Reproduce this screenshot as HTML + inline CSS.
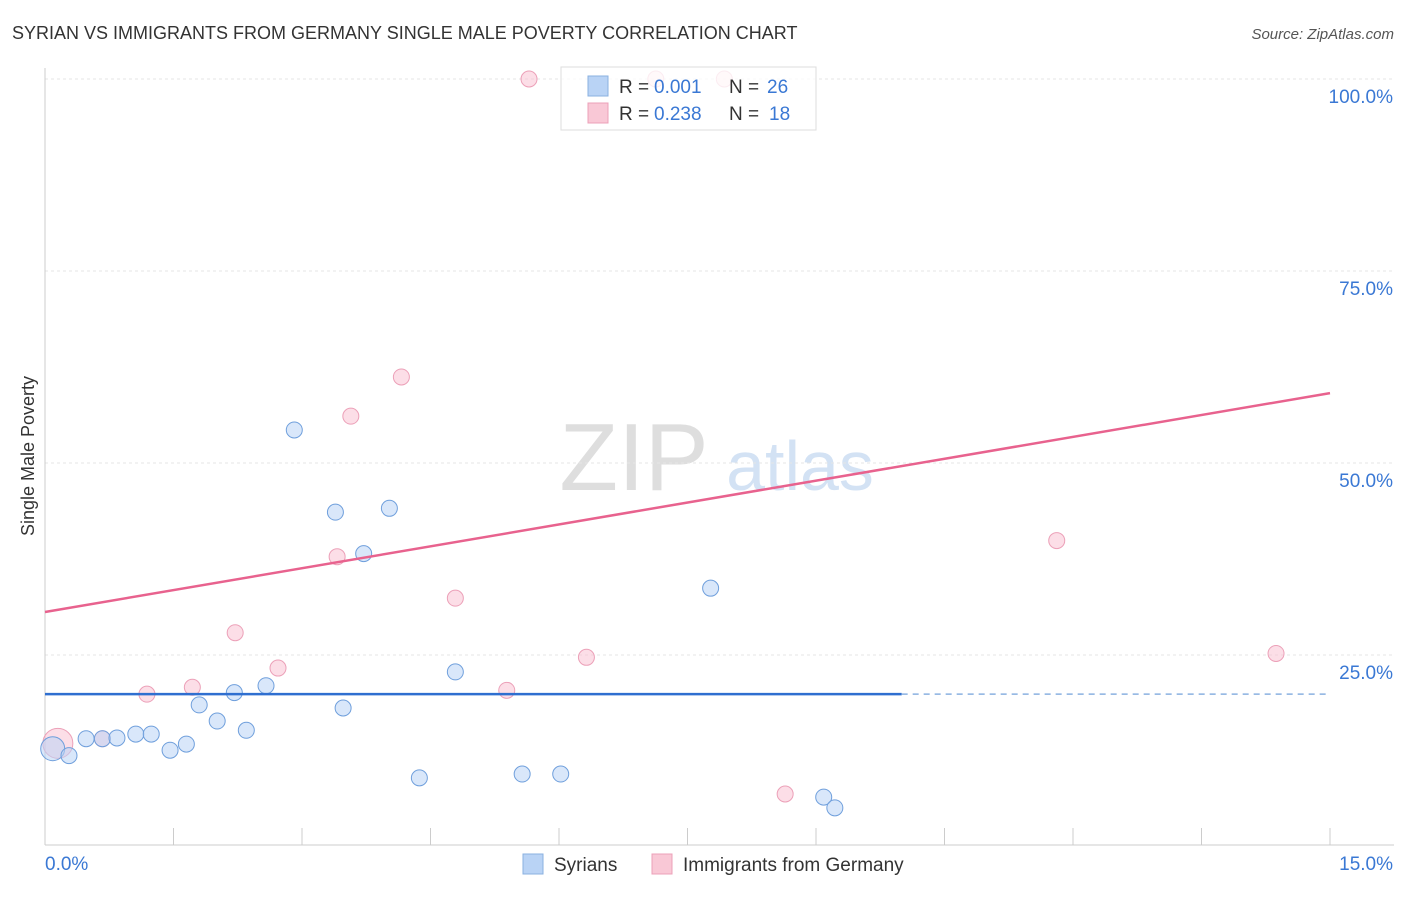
<!DOCTYPE html>
<html><head><meta charset="utf-8"><style>
body{margin:0;background:#fff;font-family:"Liberation Sans",sans-serif}
svg text{font-family:"Liberation Sans",sans-serif}
</style></head><body>
<svg id="c" width="1406" height="892">
<text x="12" y="39" font-size="18" fill="#333">SYRIAN VS IMMIGRANTS FROM GERMANY SINGLE MALE POVERTY CORRELATION CHART</text>
<text x="1394" y="39" font-size="15" fill="#555" text-anchor="end" font-style="italic">Source: ZipAtlas.com</text>
<text x="634" y="490" font-size="96" fill="#dedede" font-family="Liberation Serif" text-anchor="middle">ZIP</text>
<text x="800" y="490" font-size="70" fill="#d3e2f4" text-anchor="middle">atlas</text>
<text transform="translate(34,456) rotate(-90)" font-size="18" fill="#333" text-anchor="middle">Single Male Poverty</text>
<g id="grid"></g><g id="pts"></g>
<g>
<rect x="561" y="67" width="255" height="63" fill="#fff" fill-opacity="0.8" stroke="#ddd"/>
<rect x="588" y="76" width="20" height="20" fill="#b9d3f5" stroke="#8ab0e0"/>
<rect x="588" y="103" width="20" height="20" fill="#f9c8d6" stroke="#eca0b8"/>
<text x="619" y="93" font-size="19" fill="#333">R =</text>
<text x="654" y="93" font-size="19" fill="#3a78d4">0.001</text>
<text x="729" y="93" font-size="19" fill="#333">N =</text>
<text x="767" y="93" font-size="19" fill="#3a78d4">26</text>
<text x="619" y="120" font-size="19" fill="#333">R =</text>
<text x="654" y="120" font-size="19" fill="#3a78d4">0.238</text>
<text x="729" y="120" font-size="19" fill="#333">N =</text>
<text x="769" y="120" font-size="19" fill="#3a78d4">18</text>
</g>
<g>
<rect x="523" y="854" width="20" height="20" fill="#b9d3f5" stroke="#8ab0e0"/>
<text x="554" y="871" font-size="19" fill="#333">Syrians</text>
<rect x="652" y="854" width="20" height="20" fill="#f9c8d6" stroke="#eca0b8"/>
<text x="683" y="871" font-size="19" fill="#333">Immigrants from Germany</text>
</g>
</svg>
<script>
const blueX=[0.09,0.28,0.48,0.67,0.84,1.06,1.24,1.46,1.65,1.80,2.01,2.21,2.35,2.58,2.91,3.39,3.48,3.72,4.02,4.37,4.79,5.57,6.02,7.77,9.09,9.22];
const blueY=[12.8,11.9,14.1,14.1,14.2,14.7,14.7,12.6,13.4,18.5,16.4,20.1,15.2,21.0,54.3,43.6,18.1,38.2,44.1,9.0,22.8,9.5,9.5,33.7,6.5,5.1];
const pinkX=[0.15,0.67,1.19,1.72,2.22,2.72,3.41,3.57,4.16,4.79,5.39,5.65,6.32,7.13,7.93,8.64,11.81,14.37];
const pinkY=[13.5,14.1,19.9,20.8,27.9,23.3,37.8,56.1,61.2,32.4,20.4,100,24.7,100,100,6.9,39.9,25.2];
const blueTrend=[19.9,19.9];
const pinkTrend=[30.6,59.1];
const yTicks=[25,50,75,100];
const xTickLabels=["0.0%","15.0%"];
const NS="http://www.w3.org/2000/svg";
const sx=v=>45+v/15*1285, sy=v=>847-v*7.68;
function mk(t,a,p){const e=document.createElementNS(NS,t);for(const k in a)e.setAttribute(k,a[k]);p.appendChild(e);return e;}
const g=document.getElementById('grid'), P=document.getElementById('pts');
yTicks.forEach(t=>{
 const l=mk('line',{x1:45,x2:1394,y1:sy(t),y2:sy(t),stroke:'#e6e6e6','stroke-dasharray':'3,3'},g);
 
 
 const tx=mk('text',{x:1393,y:sy(t)+24,'font-size':19,fill:'#3a78d4','text-anchor':'end'},g);
 tx.textContent=t.toFixed(1)+'%';
 
 
});
mk('line',{x1:45,x2:45,y1:68,y2:845,stroke:'#ccc'},g);
mk('line',{x1:45,x2:1394,y1:845,y2:845,stroke:'#ccc'},g);
for(let i=0;i<=10;i++){mk('line',{x1:sx(i*1.5),x2:sx(i*1.5),y1:828,y2:845,stroke:'#ccc'},g);}
const xl0=mk('text',{x:45,y:870,'font-size':19,fill:'#3a78d4'},g);xl0.textContent=xTickLabels[0];


const xl1=mk('text',{x:1393,y:870,'font-size':19,fill:'#3a78d4','text-anchor':'end'},g);xl1.textContent=xTickLabels[1];


pinkX.forEach((x,i)=>{const c=mk('circle',{cx:sx(x),cy:sy(pinkY[i]),r:i==0?15:8,fill:'rgba(249,190,208,0.5)',stroke:'#eca0b8'},P);
 
 });
blueX.forEach((x,i)=>{const c=mk('circle',{cx:sx(x),cy:sy(blueY[i]),r:i==0?12:8,fill:'rgba(185,211,245,0.55)',stroke:'#6f9fdc'},P);
 
 });
const bl=mk('line',{x1:sx(0),x2:sx(10),y1:sy(blueTrend[0]),y2:sy(blueTrend[1]),stroke:'#2f6fd0','stroke-width':2.5},P);


const bd=mk('line',{x1:sx(10),x2:sx(15),y1:sy(blueTrend[0]),y2:sy(blueTrend[1]),stroke:'#8ab0e0','stroke-width':1.5,'stroke-dasharray':'6,5'},P);


const pl=mk('line',{x1:sx(0),x2:sx(15),y1:sy(pinkTrend[0]),y2:sy(pinkTrend[1]),stroke:'#e8628e','stroke-width':2.5},P);


</script>
</body></html>
